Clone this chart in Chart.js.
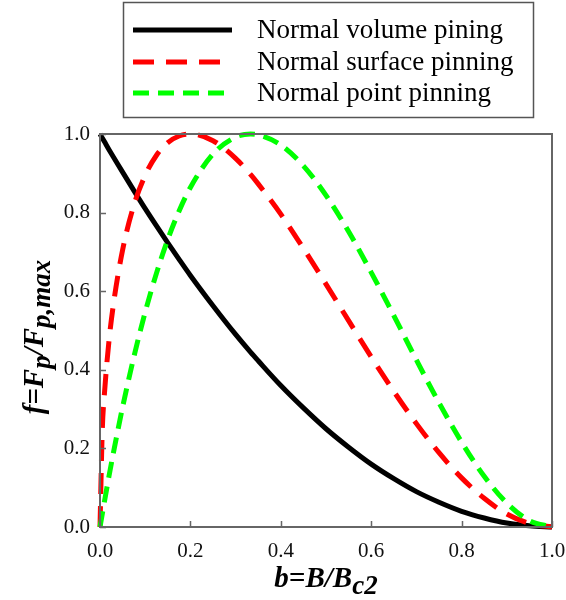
<!DOCTYPE html>
<html>
<head>
<meta charset="utf-8">
<script src="https://cdn.jsdelivr.net/npm/chart.js@4"></script>
<style>
  body { margin: 0; background: #fff; }
  #wrap { width: 566px; height: 600px; }
</style>
</head>
<body>
<div id="wrap"><canvas id="myChart" width="566" height="600"></canvas></div>
<script>
const ctx = document.getElementById('myChart');

// reduced field b = B/Bc2
const bValues = [0, 0.005, 0.01, 0.02, 0.03, 0.05, 0.075, 0.1, 0.125, 0.15, 0.175, 0.2, 0.25, 0.3, 0.333, 0.35, 0.4, 0.45, 0.5, 0.55, 0.6, 0.65, 0.7, 0.75, 0.8, 0.85, 0.9, 0.95, 1.0];
// normalised pinning force f
const volumeVals = [1, 0.990, 0.980, 0.960, 0.941, 0.903, 0.856, 0.810, 0.766, 0.723, 0.681, 0.640, 0.563, 0.490, 0.445, 0.423, 0.360, 0.303, 0.250, 0.203, 0.160, 0.123, 0.090, 0.063, 0.040, 0.023, 0.010, 0.003, 0];
const surfaceVals = [0, 0.245, 0.342, 0.475, 0.569, 0.705, 0.819, 0.895, 0.946, 0.978, 0.995, 1.0, 0.983, 0.938, 0.897, 0.873, 0.796, 0.709, 0.618, 0.525, 0.433, 0.345, 0.263, 0.189, 0.125, 0.073, 0.033, 0.009, 0];
const pointVals = [0, 0.033, 0.066, 0.130, 0.191, 0.305, 0.433, 0.547, 0.646, 0.732, 0.804, 0.864, 0.949, 0.992, 1.0, 0.998, 0.972, 0.919, 0.844, 0.752, 0.648, 0.538, 0.425, 0.316, 0.216, 0.129, 0.061, 0.016, 0];

const xTicks = [0, 0.2, 0.4, 0.6, 0.8, 1.0];
const yTicks = [0, 0.2, 0.4, 0.6, 0.8, 1.0];
const seriesNames = ['Normal volume pining', 'Normal surface pinning', 'Normal point pinning'];

const toPts = vals => bValues.map((b, i) => ({x: b, y: vals[i]}));

const tickFont = {family: '"Liberation Serif", "Times New Roman", serif', size: 21};

function drawRich(c, parts, x, y, centered) {
  // parts: [text, isSub]
  const main = 'bold italic 29px "Liberation Serif", serif';
  const sub = 'bold italic 27px "Liberation Serif", serif';
  let total = 0;
  parts.forEach(p => { c.font = p[1] ? sub : main; total += c.measureText(p[0]).width; });
  let cx = centered ? x - total / 2 : x;
  parts.forEach(p => {
    c.font = p[1] ? sub : main;
    c.fillText(p[0], cx, y + (p[1] ? 7 : 0));
    cx += c.measureText(p[0]).width;
  });
}

const decor = {
  id: 'decor',
  afterDraw(chart) {
    const c = chart.ctx;
    const a = chart.chartArea;
    const xs = chart.scales.x, ys = chart.scales.y;
    c.save();
    // frame
    c.strokeStyle = '#666';
    c.lineWidth = 2;
    c.strokeRect(a.left, a.top, a.right - a.left, a.bottom - a.top);
    // inward ticks
    c.lineWidth = 1.5;
    c.beginPath();
    xTicks.forEach(t => {
      const px = Math.round(xs.getPixelForValue(t)) + 0.5;
      c.moveTo(px, a.bottom); c.lineTo(px, a.bottom - 6);
    });
    yTicks.forEach(t => {
      const py = Math.round(ys.getPixelForValue(t)) + 0.5;
      c.moveTo(a.left, py); c.lineTo(a.left + 6, py);
    });
    c.stroke();

    // legend box
    c.strokeStyle = '#555';
    c.lineWidth = 1.5;
    c.strokeRect(123.5, 2.5, 410, 115);
    const rows = [30, 62, 93];
    chart.data.datasets.forEach((ds, i) => {
      c.strokeStyle = ds.borderColor;
      c.lineWidth = 5;
      c.setLineDash(ds.borderDash || []);
      c.beginPath();
      c.moveTo(133, rows[i]); c.lineTo(232, rows[i]);
      c.stroke();
      c.setLineDash([]);
      c.fillStyle = '#000';
      c.font = '27px "Liberation Serif", serif';
      c.textAlign = 'left';
      c.textBaseline = 'alphabetic';
      c.fillText(seriesNames[i], 257, rows[i] + 8);
    });

    // axis titles
    c.fillStyle = '#000';
    c.textAlign = 'left';
    c.textBaseline = 'alphabetic';
    drawRich(c, [['b=B/B', false], ['c2', true]], 326, 587, true);
    c.translate(43, 337);
    c.rotate(-Math.PI / 2);
    drawRich(c, [['f=F', false], ['p', true], ['/F', false], ['p,max', true]], 0, 0, true);
    c.restore();
  }
};

const data = {
  datasets: [{
    label: seriesNames[0],
    data: toPts(volumeVals),
    borderColor: '#000000',
    borderWidth: 5,
    order: 3
  }, {
    label: seriesNames[1],
    data: toPts(surfaceVals),
    borderColor: '#ff0000',
    borderWidth: 5,
    borderDash: [21, 12],
    order: 2
  }, {
    label: seriesNames[2],
    data: toPts(pointVals),
    borderColor: '#00ff00',
    borderWidth: 5,
    borderDash: [16, 9],
    order: 1
  }]
};

const config = {
  type: 'line',
  data: data,
  plugins: [decor],
  options: {
    responsive: false,
    animation: false,
    layout: {padding: {top: 134, right: 14, left: 0, bottom: 0}},
    elements: {
      point: {radius: 0},
      line: {cubicInterpolationMode: 'monotone', fill: false, borderCapStyle: 'butt'}
    },
    datasets: {line: {clip: false}},
    plugins: {legend: {display: false}, tooltip: {enabled: false}},
    scales: {
      x: {
        type: 'linear', min: 0, max: 1,
        grid: {display: false, drawTicks: false},
        border: {display: false},
        afterBuildTicks: s => { s.ticks = xTicks.map(v => ({value: v})); },
        afterFit: s => { s.height = 73; s.paddingLeft = 0; s.paddingRight = 0; },
        ticks: {padding: 12, color: '#111', font: tickFont, maxRotation: 0, callback: v => v.toFixed(1)}
      },
      y: {
        min: 0, max: 1,
        grid: {display: false, drawTicks: false},
        border: {display: false},
        afterBuildTicks: s => { s.ticks = yTicks.map(v => ({value: v})); },
        afterFit: s => { s.width = 100; s.paddingTop = 0; s.paddingBottom = 0; },
        ticks: {padding: 10, color: '#111', font: tickFont, callback: v => v.toFixed(1)}
      }
    }
  }
};

const lineChart = new Chart(ctx, config);
</script>
</body>
</html>
